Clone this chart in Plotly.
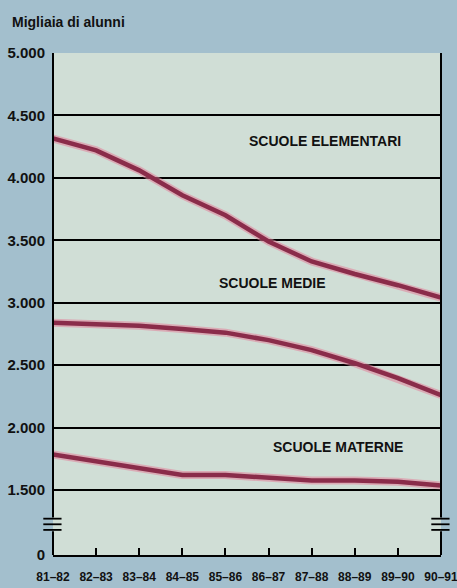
import plotly.graph_objects as go

years = ["81–82", "82–83", "83–84", "84–85", "85–86", "86–87", "87–88", "88–89", "89–90", "90–91"]
elementari = [4315, 4220, 4060, 3860, 3700, 3490, 3330, 3230, 3140, 3040]
medie = [2840, 2830, 2815, 2790, 2760, 2700, 2620, 2515, 2395, 2260]
materne = [1785, 1730, 1670, 1620, 1620, 1600, 1575, 1575, 1565, 1535]

grid_vals = [1500, 2000, 2500, 3000, 3500, 4000, 4500, 5000]
grid_text = ["1.500", "2.000", "2.500", "3.000", "3.500", "4.000", "4.500", "5.000"]
ZERO_POS = 979  # where the broken axis shows "0"
BREAK_LO, BREAK_HI = 1170, 1280

labels = [("SCUOLE ELEMENTARI", 6.3, 4295), ("SCUOLE MEDIE", 5.1, 3157), ("SCUOLE MATERNE", 6.62, 1843)]

BG = "#a3bfcd"
PLOT_BG = "#d0ded6"
LINE = "#8a2c4a"
HALO = "rgba(225,130,155,0.55)"
FONT = "Liberation Sans, Arial, sans-serif"

fig = go.Figure()
for series in (elementari, medie, materne):
    fig.add_trace(go.Scatter(x=years, y=series, mode="lines",
                             line=dict(color=HALO, width=8), hoverinfo="skip", showlegend=False))
    fig.add_trace(go.Scatter(x=years, y=series, mode="lines",
                             line=dict(color=LINE, width=4.5), showlegend=False))

for text, xv, yv in labels:
    fig.add_annotation(x=xv, y=yv, xref="x", yref="y", text=text, showarrow=False,
                       font=dict(family=FONT, size=14, color="#111111", weight="bold"))

fig.add_annotation(x=-0.111, y=1.062, xref="paper", yref="paper", xanchor="left", yanchor="middle",
                   text="<b>Migliaia di alunni</b>", showarrow=False,
                   font=dict(family=FONT, size=14, color="#111111"))

shapes = []
# axis lines with breaks (left and right)
for xd in (0, 1):
    shapes.append(dict(type="line", xref="x domain", yref="y", x0=xd, x1=xd, y0=BREAK_HI, y1=5000,
                       line=dict(color="black", width=2), layer="above"))
    shapes.append(dict(type="line", xref="x domain", yref="y", x0=xd, x1=xd, y0=BREAK_LO,
                       y1=ZERO_POS - 50, line=dict(color="black", width=2), layer="above"))
    for yy in (BREAK_LO + 10, (BREAK_LO + BREAK_HI) / 2, BREAK_HI - 10):
        shapes.append(dict(type="line", xref="x domain", yref="y", x0=xd - 0.025, x1=xd + 0.022,
                           y0=yy, y1=yy, line=dict(color="black", width=1.8), layer="above"))
fig.update_layout(shapes=shapes)

fig.update_layout(
    width=457, height=588,
    margin=dict(l=53, r=16, t=53, b=33),
    paper_bgcolor=BG, plot_bgcolor=PLOT_BG,
    showlegend=False,
    xaxis=dict(type="category", range=[0, 9], showgrid=False, zeroline=False, automargin=False,
               showline=True, linecolor="black", linewidth=2, tickangle=0,
               ticks="inside", ticklen=7, tickwidth=2, tickcolor="black", ticklabelstandoff=10,
               tickfont=dict(family=FONT, size=12, color="#111111", weight="bold")),
    yaxis=dict(range=[ZERO_POS, 5000], tickvals=[ZERO_POS] + grid_vals, ticktext=["0"] + grid_text,
               showgrid=True, gridcolor="black", gridwidth=1.6, zeroline=False, showline=False,
               automargin=False, ticks="outside", ticklen=4, tickcolor="rgba(0,0,0,0)",
               tickfont=dict(family=FONT, size=15, color="#111111", weight="bold")),
)
fig.write_html("out.html", config={"displayModeBar": False},
               post_script="document.body.style.margin='0';document.body.style.overflow='hidden';")
